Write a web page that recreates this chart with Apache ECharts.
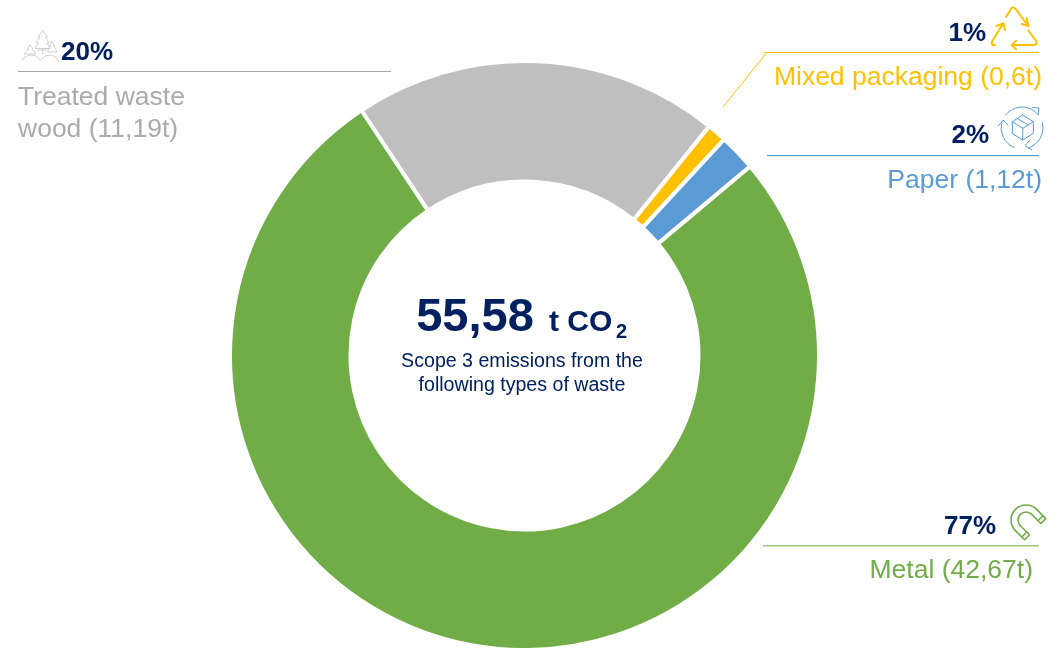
<!DOCTYPE html>
<html>
<head>
<meta charset="utf-8">
<style>html,body{margin:0;padding:0;background:#fff}#c{width:1060px;height:648px}</style>
<script src="https://cdn.jsdelivr.net/npm/echarts@6/dist/echarts.min.js"></script>
</head>
<body>
<div id="c"></div>
<script>
const categories = ['Metal', 'Treated waste wood', 'Mixed packaging', 'Paper'];
const tonnes = [42.67, 11.19, 0.6, 1.12];
const tonneLabels = ['42,67t', '11,19t', '0,6t', '1,12t'];
const percentLabels = ['77%', '20%', '1%', '2%'];
const colors = ['#70AD47', '#BFBFBF', '#FFC000', '#5B9BD5'];
const textColors = ['#70AD47', '#ABABAB', '#FFC000', '#5B9BD5'];
const total = '55,58';
const navy = '#002060';
const font = 'Liberation Sans';

const T = (x, y, text, size, color, align, bold) => ({
  type: 'text', x, y, silent: true,
  style: { text, fontFamily: font, fontSize: size, fill: color, align, verticalAlign: 'middle',
    fontWeight: bold ? 'bold' : 'normal' }
});
const Poly = (points, color, w) => ({
  type: 'polyline', silent: true, shape: { points },
  style: { fill: null, stroke: color, lineWidth: w, lineCap: 'round', lineJoin: 'round' }
});
const Arc = (cx, cy, r, a0, a1, color, w) => ({
  type: 'arc', silent: true,
  shape: { cx, cy, r, startAngle: a0 * Math.PI / 180, endAngle: a1 * Math.PI / 180, clockwise: true },
  style: { fill: null, stroke: color, lineWidth: w, lineCap: 'round' }
});
const L = (x1, y1, x2, y2, color, w) => ({
  type: 'polyline', silent: true, shape: { points: [[x1, y1], [x2, y2]] },
  style: { fill: null, stroke: color, lineWidth: w || 1 }
});

const iconY = '#FFC000', iconB = '#5B9BD5', iconG = '#70AD47', iconT = '#BDBDBD';
const graphics = [
  // centre
  T(475, 318, total, 47, navy, 'center', true),
  T(549, 323, 't CO', 30, navy, 'left', true),
  T(616, 332, '2', 20, navy, 'left', true),
  T(522, 362, 'Scope 3 emissions from the', 19.6, navy, 'center'),
  T(522, 386, 'following types of waste', 19.6, navy, 'center'),
  // wood
  L(18, 71.5, 391, 71.5, '#A6A6A6', 1.2),
  T(61, 53, percentLabels[1], 26, navy, 'left', true),
  T(18, 98, 'Treated waste', 26.5, textColors[1], 'left'),
  T(18, 130, 'wood (' + tonneLabels[1] + ')', 26.5, textColors[1], 'left'),
  // mixed packaging
  L(764, 52.5, 1039, 52.5, iconY),
  L(723, 107, 766.5, 53, iconY),
  T(986, 34, percentLabels[2], 26, navy, 'right', true),
  T(1042, 78, categories[2] + ' (' + tonneLabels[2] + ')', 26.5, textColors[2], 'right'),
  // paper
  L(767, 155.5, 1039, 155.5, iconB),
  T(989, 136, percentLabels[3], 26, navy, 'right', true),
  T(1042, 181, categories[3] + ' (' + tonneLabels[3] + ')', 26.5, textColors[3], 'right'),
  // metal
  L(763, 545.7, 1039, 545.7, '#9DC67F', 1.5),
  T(996, 527, percentLabels[0], 26, navy, 'right', true),
  T(1033, 571, categories[0] + ' (' + tonneLabels[0] + ')', 26.5, textColors[0], 'right'),
  // recycling icon
  Poly([[1006, 17], [1011, 9], [1012, 7.5], [1014, 7.5], [1016, 9.5], [1028.3, 26]], iconY, 2),
  Poly([[1021.7, 24], [1028.3, 26], [1026.7, 18.3]], iconY, 2),
  Poly([[1028, 30], [1036.5, 41.5], [1036.5, 44], [1034.5, 45], [1011.7, 45]], iconY, 2),
  Poly([[1016, 40.7], [1011.7, 45], [1016, 49.3]], iconY, 2),
  Poly([[995, 45], [992.5, 45], [991.7, 42], [1003.3, 23.3]], iconY, 2),
  Poly([[996.7, 26], [1003.3, 23.3], [1005, 30]], iconY, 2),
  // box + circular arrows icon
  Poly([[1022.7, 115], [1033.3, 121.7], [1033.3, 133.5], [1022.7, 140], [1012.3, 133.5], [1012.3, 121.7], [1022.7, 115]], iconB, 1),
  Poly([[1012.3, 121.7], [1022.7, 128.3], [1033.3, 121.7]], iconB, 1),
  Poly([[1022.7, 128.3], [1022.7, 140]], iconB, 1),
  Poly([[1017, 118.3], [1028.3, 125]], iconB, 1),
  Arc(1022, 128, 21, 218, 318, iconB, 1),
  Poly([[1033, 107.5], [1039, 108], [1038, 115]], iconB, 1),
  Arc(1022, 128, 21, 345, 72, iconB, 1),
  Poly([[1030, 140], [1025, 145.7], [1031.7, 150]], iconB, 1),
  Arc(1022, 128, 21, 112, 195, iconB, 1),
  Poly([[998, 126], [1003.3, 120], [1008, 125]], iconB, 1),
  // magnet icon
  Arc(1026, 520, 15, 135, 315, iconG, 1.6),
  Arc(1026, 520, 8, 135, 315, iconG, 1.6),
  Poly([[1036.6, 509.4], [1045.8, 518.6], [1040.8, 523.5], [1031.7, 514.3]], iconG, 1.6),
  Poly([[1015.4, 530.6], [1024.6, 539.8], [1029.5, 534.8], [1020.3, 525.7]], iconG, 1.6),
  L(1043, 515.8, 1038, 520.7, iconG, 1.6),
  L(1021.8, 537, 1026.7, 532, iconG, 1.6),
  // trees icon
  Poly([[42.7, 30.5], [38, 37], [40, 37], [36, 43], [38.5, 43], [35, 48.5], [50, 48.5], [47, 43], [49, 43], [45.5, 37], [47.5, 37], [42.7, 30.5]], iconT, 0.7),
  Poly([[38, 50], [47, 50]], iconT, 0.7),
  Poly([[42.7, 49], [42.7, 54]], iconT, 0.7),
  Poly([[30, 45], [27.5, 49], [28.5, 49], [24, 54], [36, 54], [32, 49], [33, 49], [30, 45]], iconT, 0.7),
  Poly([[51.7, 41.5], [49.5, 46], [50.5, 46], [47.5, 52], [57, 52], [54, 46], [55, 46], [51.7, 41.5]], iconT, 0.7),
  Arc(31, 65.2, 10.2, 206, 334, iconT, 0.7),
  Arc(49.5, 65, 10, 206, 334, iconT, 0.7)
];

const chart = echarts.init(document.getElementById('c'), null, { renderer: 'canvas' });
chart.setOption({
  animation: false,
  backgroundColor: '#fff',
  color: colors,
  series: [{
    type: 'pie',
    center: [524.5, 355.5],
    radius: [174, 294.5],
    startAngle: 40,
    clockwise: true,
    label: { show: false },
    labelLine: { show: false },
    silent: true,
    itemStyle: { borderColor: '#fff', borderWidth: 4 },
    data: categories.map((name, i) => ({ name, value: tonnes[i] }))
  }],
  graphic: { elements: graphics }
});
</script>
</body>
</html>
